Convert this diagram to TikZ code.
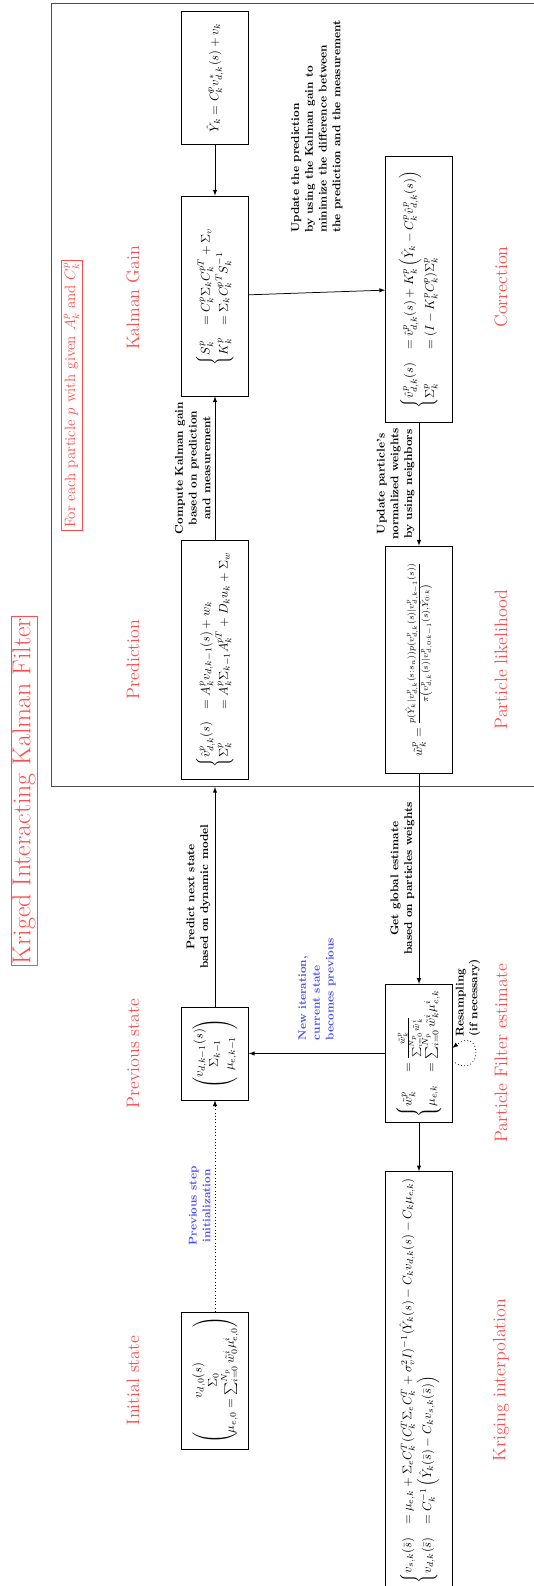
\documentclass[tikz,border=0pt]{standalone}
\usepackage{amsmath, amssymb}
\usepackage{tikz}

\tikzset{
  stage/.style={draw, semithick, minimum height=53.6pt, inner sep=4pt},
  stagelabel/.style={text=red!70, font=\Large},
  steptext/.style={font=\small\bfseries, align=center},
  looptext/.style={font=\small\bfseries, text=blue!70, align=center},
  titlebox/.style={draw=red!70, text=red!70, inner sep=2pt}
}

\begin{document}
\begin{tikzpicture}[x=0.8pt, y=0.8pt, rotate=90, transform shape, >=latex]
            \useasboundingbox (0,0) rectangle (1586,533);
            % title and frame
            \node[titlebox, font=\huge, inner sep=1pt] (title) at (795,509) {Kriged Interacting Kalman Filter};
            \draw[thick, black!70] (799,-6) rectangle (1582,481.5);
            \coordinate (predin) at (799,318);
            \node[titlebox, font=\large] (particle) at (1191,461.5) {For each particle $p$ with given $A^p_k$ and $C^p_k$};
            % upper row
            \node[stage, minimum width=106.4pt] (init) at (205.5,318) {$\begin{pmatrix} v_{d,0}(s) \\ \Sigma_0 \\ \mu_{e,0} = \sum_{i=0}^{N_p} \tilde{w}^i_0 \mu^i_{e,0} \end{pmatrix}$};
            \node[stage, minimum width=74.4pt] (prev) at (532.5,318) {$\begin{pmatrix} v_{d,k-1}(s) \\ \Sigma_{k-1} \\ \mu_{e,k-1} \end{pmatrix}$};
            \node[stage, minimum width=191.2pt] (pred) at (926.5,318) {$\begin{cases} \hat{v}^p_{d,k}(s) & = A^p_k v_{d,k-1}(s) + w_k \\ \Sigma^p_k & = A^p_k \Sigma_{k-1} A^{pT}_k + D_k u_k + \Sigma_w \end{cases}$};
            \node[stage, minimum width=160pt] (kalman) at (1290,318) {$\begin{cases} S^p_k & = C^p_k \Sigma_k C^{pT}_k + \Sigma_v \\ K^p_k & = \Sigma_k C^{pT}_k S^{-1}_k \end{cases}$};
            \node[stage, minimum width=106.4pt] (meas) at (1508.5,318) {$\hat{Y}_k = C^p_k v^*_{d,k}(s) + v_k$};
            % lower row
            \node[stage, minimum width=331.2pt] (krig) at (206,114) {$\begin{cases} v_{s,k}(\bar{s}) & = \mu_{e,k} + \Sigma_e C^T_k (C^T_k \Sigma_e C^T_k + \sigma^2_v I)^{-1} (\hat{Y}_k(s) - C_k v_{d,k}(s) - C_k \mu_{e,k}) \\ v_{d,k}(\bar{s}) & = C^{-1}_k \left(\hat{Y}_k(\bar{s}) - C_k v_{s,k}(\bar{s})\right) \end{cases}$};
            \node[stage, minimum width=106.4pt] (pf) at (532.5,114) {$\begin{cases} \tilde{w}^p_k & = \frac{\tilde{w}^p_k}{\sum_{i=0}^{N_p} \tilde{w}^i_k} \\ \mu_{e,k} & = \sum_{i=0}^{N_p} \tilde{w}^i_k \mu^i_{e,k} \end{cases}$};
            \node[stage, minimum width=181.6pt] (lik) at (926.5,114) {$\tilde{w}^p_k = \frac{p(\hat{Y}_k | v^p_{d,k}(s:s_n)) p(v^p_{d,k}(s) | v^p_{d,k-1}(s))}{\pi\left(v^p_{d,k}(s) | v^p_{d,0:k-1}(s), \hat{Y}_{0:k}\right)}$};
            \node[stage, minimum width=212.8pt] (corr) at (1297,114) {$\begin{cases} \hat{v}^p_{d,k}(s) & = \hat{v}^p_{d,k}(s) + K^p_k \left(\hat{Y}_k - C^p_k \hat{v}^p_{d,k}(s)\right) \\ \Sigma^p_k & = (I - K^p_k C^p_k) \Sigma^p_k \end{cases}$};
            % stage names
            \node[stagelabel] (initlbl) at (205.5,400) {Initial state};
            \node[stagelabel] (prevlbl) at (532.5,400) {Previous state};
            \node[stagelabel] (predlbl) at (926.5,400) {Prediction};
            \node[stagelabel] (gainlbl) at (1288,400) {Kalman Gain};
            \node[stagelabel] (kriglbl) at (206,32) {Kriging interpolation};
            \node[stagelabel] (pflbl) at (532.5,32) {Particle Filter estimate};
            \node[stagelabel] (liklbl) at (926.5,32) {Particle likelihood};
            \node[stagelabel] (corrlbl) at (1299,32) {Correction};
            % connectors
            \draw[->, semithick] (meas) -- (kalman);
            \draw[->, semithick] (pred) -- node[steptext, above] (gaintext) {Compute Kalman gain\\based on prediction\\and measurement} (kalman);
            \draw[->, semithick] (kalman) -- node[steptext, right=44pt, align=left] (updtext) {Update the prediction\\by using the Kalman gain to\\minimize the difference between\\the prediction and the measurement} (corr);
            \draw[->, semithick] (corr) -- node[steptext, above] (weighttext) {Update particle's\\normalized weights\\by using neighbors} (lik);
            \draw[->, semithick] (lik) -- node[steptext, above] (globaltext) {Get global estimate\\based on particles weights} (pf);
            \draw[->, semithick] (pf) -- node[looptext, right=7pt, align=left] (itertext) {New iteration,\\current state\\becomes previous} (prev);
            \draw[->, semithick] (prev) -- node[steptext, above] (predtext) {Predict next state\\based on dynamic model} (predin);
            \draw[->, semithick, dotted] (init) -- node[looptext, above] (inittext) {Previous step\\initialization} (prev);
            \draw[->, semithick] (pf) -- (krig);
            % resampling loop
            \coordinate (loopout) at (525,80.6);
            \coordinate (loopin) at (538,80.6);
            \draw[->, semithick, dotted] (loopout) .. controls (503,50) and (562,50) .. (loopin);
            \node[steptext, anchor=west, align=left] (resampletext) at (545,65) {Resampling\\(if necessary)};
        \end{tikzpicture}
\end{document}
